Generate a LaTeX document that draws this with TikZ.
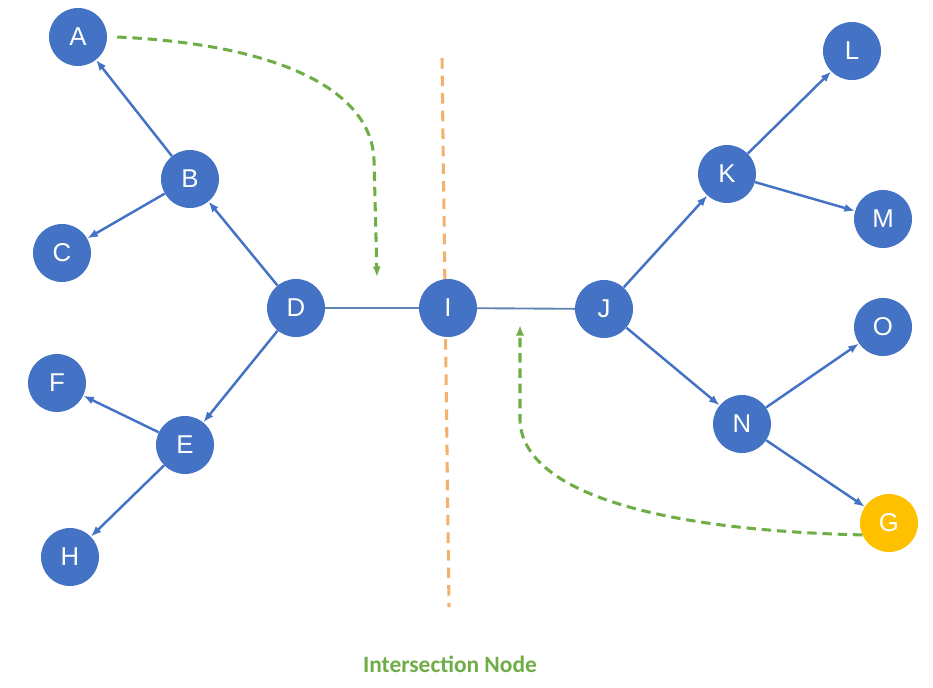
\documentclass[tikz,border=0pt]{standalone}
\usepackage{fontspec}
\setmainfont{Liberation Sans}
\newfontfamily\labelfont{Carlito}
\usepackage{tikz}
\usetikzlibrary{arrows.meta}
\definecolor{nodeblue}{RGB}{68,114,196}
\definecolor{goalcol}{RGB}{255,192,0}
\definecolor{pathgreen}{RGB}{112,173,71}
\definecolor{cutcol}{RGB}{244,177,110}
\definecolor{linkcol}{RGB}{96,132,178}
\tikzset{>={Latex[length=9pt,width=7pt]}}

\begin{document}
\begin{tikzpicture}[x=0.03cm, y=-0.03cm,
  vert/.style={circle, fill=nodeblue, minimum size=1.74cm, inner sep=0pt,
    text=white, font=\fontsize{22}{26}\selectfont},
  goal/.style={vert, fill=goalcol},
  tree/.style={->, nodeblue, line width=2.1pt},
  link/.style={linkcol, line width=1.6pt},
  search/.style={->, pathgreen, line width=2.6pt, dash pattern=on 8pt off 5pt}]

\useasboundingbox (0,0) rectangle (933,687);

% Cut line
\coordinate (cutT) at (442,58);
\coordinate (cutB) at (449,607);
\draw[cutcol, line width=2.6pt, dash pattern=on 9pt off 6pt] (cutT) -- (cutB);

% Left tree
\node[vert] (A) at (78,37) {A};
\node[vert] (B) at (190,179) {B};
\node[vert] (C) at (62,253) {C};
\node[vert] (D) at (296,308) {D};
\node[vert] (E) at (185,445) {E};
\node[vert] (F) at (57,383) {F};
\node[vert] (H) at (70,557) {H};

% Intersection
\node[vert] (I) at (448,308) {I};

% Right tree
\node[vert] (J) at (604,309) {J};
\node[vert] (K) at (727,174) {K};
\node[vert] (L) at (852,51) {L};
\node[vert] (M) at (883,219) {M};
\node[vert] (O) at (883,327) {O};
\node[vert] (N) at (742,424) {N};
\node[goal] (G) at (889,523) {G};

% Edges
\draw[tree] (B) -- (A);
\draw[tree] (B) -- (C);
\draw[tree] (D) -- (B);
\draw[tree] (D) -- (E);
\draw[tree] (E) -- (F);
\draw[tree] (E) -- (H);
\draw[tree] (J) -- (K);
\draw[tree] (K) -- (L);
\draw[tree] (K) -- (M);
\draw[tree] (J) -- (N);
\draw[tree] (N) -- (O);
\draw[tree] (N) -- (G);

\draw[link] (D) -- (I);
\draw[link] (I) -- (J);

% Search fronts
\coordinate (endA) at (377,277);
\coordinate (endG) at (520,325);
\draw[search] ([xshift=0.3cm]A.east) .. controls (290,45) and (372,95) .. (374,160) -- (endA);
\draw[search] (G.204) .. controls (650,530) and (522,490) .. (520,420) -- (endG);

% Caption
\node[text=pathgreen, font=\labelfont\bfseries\fontsize{20}{24}\selectfont] (cap) at (450,664) {Intersection Node};

\end{tikzpicture}
\end{document}
